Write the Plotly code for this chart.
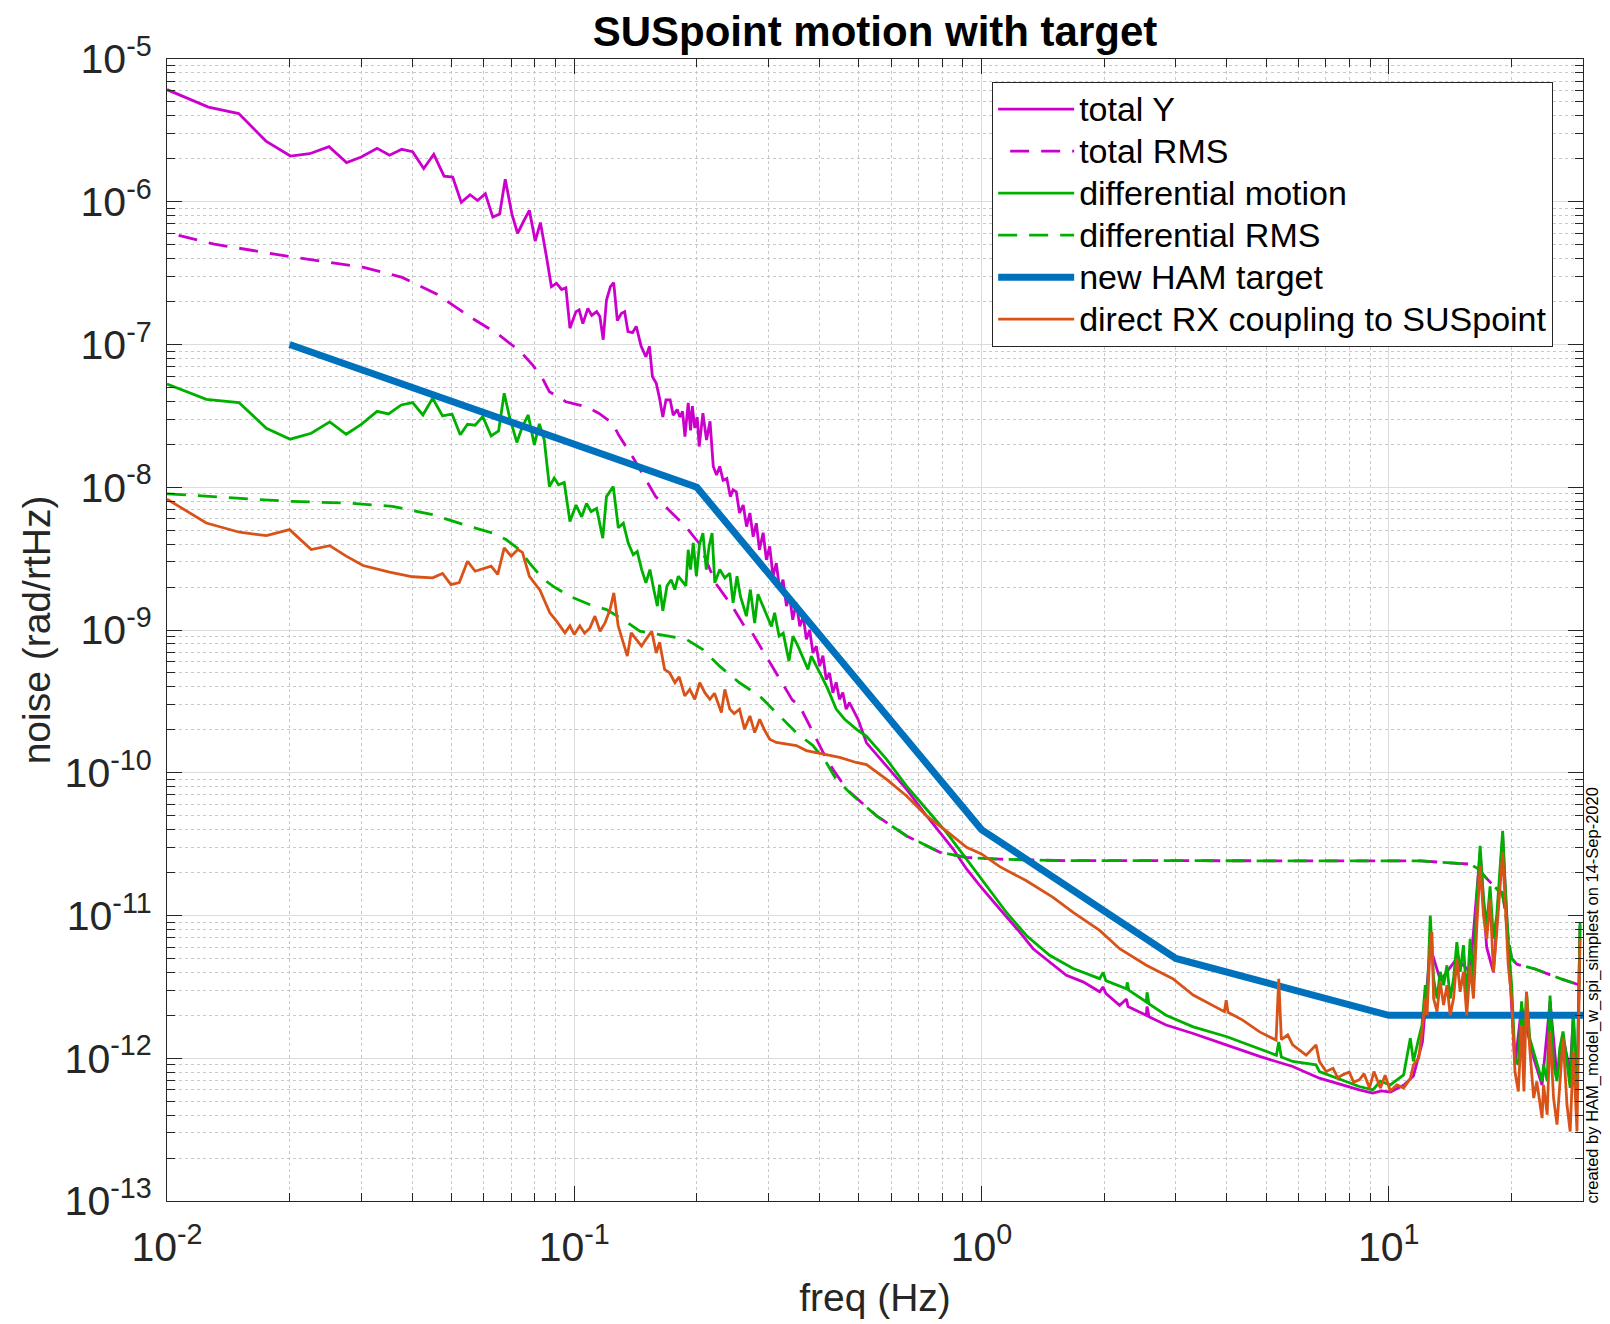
import math
import plotly.graph_objects as go

FONT = "Liberation Sans, Arial, Helvetica, sans-serif"
MAGENTA = "#CC00CC"
GREEN = "#00B000"
BLUE = "#0072BD"
ORANGE = "#D95319"

# ---------------- data ----------------
total_y_f = [0.01, 0.01264, 0.0150, 0.0175, 0.0201, 0.0224, 0.0250, 0.0276, 0.0300, 0.0328,
             0.0352, 0.0377, 0.0401, 0.0427, 0.0452, 0.0479, 0.0503, 0.0528, 0.0555, 0.0579,
             0.0605, 0.0631, 0.0656, 0.0677, 0.0703, 0.0726, 0.0751, 0.0776, 0.0802, 0.0826,
             0.0855, 0.0879, 0.0905, 0.0931, 0.0954, 0.0976, 0.101, 0.1028, 0.105, 0.108,
             0.1104, 0.1135, 0.1156, 0.1178, 0.120, 0.1227, 0.125, 0.1276, 0.1305, 0.133,
             0.1355, 0.139, 0.142, 0.146, 0.150, 0.153, 0.1556, 0.159, 0.162, 0.165,
             0.168, 0.172, 0.175, 0.179, 0.1817, 0.1845, 0.187, 0.1905, 0.193, 0.195,
             0.1977, 0.2004, 0.2027, 0.207, 0.2113, 0.2155, 0.2195, 0.2236, 0.2277, 0.232,
             0.237, 0.2417, 0.2455, 0.250, 0.2546, 0.260, 0.265, 0.270, 0.275, 0.280,
             0.285, 0.291, 0.2964, 0.302, 0.3077, 0.3135, 0.3194, 0.3256, 0.332, 0.338,
             0.344, 0.351, 0.358, 0.365, 0.3716, 0.3786, 0.3857, 0.393, 0.4005, 0.408,
             0.4158, 0.4236, 0.4316, 0.4398, 0.448, 0.4566, 0.4653, 0.474, 0.488, 0.4977,
             0.522, 0.585, 0.655, 0.733, 0.791, 0.852, 0.919, 0.991, 1.109, 1.242,
             1.339, 1.472, 1.616, 1.776, 1.951, 1.99, 2.02, 2.184, 2.27, 2.29,
             2.539, 2.55, 2.58, 2.84, 3.31, 3.99, 4.82, 5.81, 6.76, 8.47,
             9.14, 9.6, 10.1, 10.9, 11.5, 12.1, 12.65, 13.4, 14.7, 15.85,
             16.77, 17.4, 18.08, 19.05, 19.66, 20.42, 21.2, 22.7, 23.8, 24.9,
             25.9, 26.8, 27.9, 28.4, 29.0, 29.5]
total_y_v = [6.1e-6, 4.6e-6, 4.15e-6, 2.66e-6, 2.09e-6, 2.17e-6, 2.43e-6, 1.88e-6, 2.06e-6, 2.37e-6,
             2.12e-6, 2.33e-6, 2.24e-6, 1.71e-6, 2.15e-6, 1.51e-6, 1.49e-6, 9.9e-7, 1.12e-6, 1.02e-6,
             1.14e-6, 7.8e-7, 8.2e-7, 1.44e-6, 8.2e-7, 6.0e-7, 7.3e-7, 8.7e-7, 5.3e-7, 7.15e-7,
             4.1e-7, 2.54e-7, 2.68e-7, 2.43e-7, 2.5e-7, 1.3e-7, 1.7e-7, 1.75e-7, 1.4e-7, 1.79e-7,
             1.6e-7, 1.7e-7, 1.57e-7, 1.08e-7, 2.05e-7, 2.54e-7, 2.71e-7, 1.47e-7, 1.65e-7, 1.7e-7,
             1.23e-7, 1.21e-7, 1.34e-7, 9.7e-8, 8.2e-8, 9.7e-8, 5.96e-8, 5.35e-8, 4.2e-8, 3.1e-8,
             4.1e-8, 4.1e-8, 3.2e-8, 3.5e-8, 3.1e-8, 3.4e-8, 2.26e-8, 3.9e-8, 2.5e-8, 3.7e-8,
             2.6e-8, 3.1e-8, 1.93e-8, 3.3e-8, 2.14e-8, 2.9e-8, 1.4e-8, 1.22e-8, 1.4e-8, 1.12e-8,
             1.15e-8, 8.6e-9, 9.6e-9, 9.3e-9, 6.6e-9, 7.5e-9, 5.3e-9, 6.6e-9, 4.5e-9, 5.6e-9,
             3.65e-9, 4.8e-9, 3.1e-9, 3.85e-9, 2.38e-9, 2.94e-9, 1.92e-9, 2.25e-9, 1.47e-9, 1.72e-9,
             1.18e-9, 1.55e-9, 1.06e-9, 1.25e-9, 8.6e-10, 1.0e-9, 6.9e-10, 7.7e-10, 5.6e-10, 6.6e-10,
             4.5e-10, 5.0e-10, 3.64e-10, 4.3e-10, 3.27e-10, 3.64e-10, 2.79e-10, 3.1e-10, 2.64e-10, 2.37e-10,
             1.62e-10, 1.11e-10, 7.65e-11, 5.0e-11, 3.81e-11, 2.92e-11, 2.12e-11, 1.62e-11, 1.11e-11, 7.65e-12,
             5.85e-12, 4.72e-12, 3.81e-12, 3.43e-12, 2.92e-12, 3.16e-12, 2.85e-12, 2.35e-12, 2.6e-12, 2.3e-12,
             2.0e-12, 2.3e-12, 1.95e-12, 1.71e-12, 1.49e-12, 1.24e-12, 1.03e-12, 8.75e-13, 7.25e-13, 6.0e-13,
             5.7e-13, 5.9e-13, 5.8e-13, 6.5e-13, 7.5e-13, 1.3e-12, 6.0e-12, 3.5e-12, 5.0e-12, 4.0e-12,
             2.8e-11, 6.0e-12, 4.0e-12, 3.6e-11, 6.0e-12, 9.0e-13, 2.3e-12, 1.0e-12, 6.5e-13, 2.5e-12,
             7.5e-13, 1.4e-12, 8.0e-13, 2.0e-12, 5.5e-13, 8.5e-12]

total_rms_f = [0.01, 0.01306, 0.0201, 0.0304, 0.0378, 0.0459, 0.0557, 0.0648, 0.0707, 0.0733,
               0.079, 0.0836, 0.0869, 0.0954, 0.107, 0.1151, 0.1242, 0.1288, 0.139, 0.150,
               0.1585, 0.171, 0.188, 0.2027, 0.2226, 0.2445, 0.265, 0.2738, 0.3077, 0.343,
               0.3576, 0.379, 0.409, 0.4327, 0.4667, 0.5527, 0.655, 0.791, 0.919, 1.109,
               1.616, 3.43, 8.52, 12.0, 15.85, 16.6, 17.3, 18.1, 18.6, 19.0,
               19.3, 19.66, 20.04, 20.65, 22.7, 26.4, 29.5]
total_rms_v = [6.1e-7, 5.05e-7, 4.12e-7, 3.47e-7, 2.95e-7, 2.26e-7, 1.55e-7, 1.19e-7, 9.8e-8, 9.1e-8,
               7.2e-8, 5.78e-8, 4.67e-8, 3.97e-8, 3.66e-8, 3.29e-8, 2.8e-8, 2.3e-8, 1.64e-8, 1.12e-8,
               8.6e-9, 6.9e-9, 5.29e-9, 4.04e-9, 2.12e-9, 1.46e-9, 1.0e-9, 9.5e-10, 5.4e-10, 3.24e-10,
               2.94e-10, 2.12e-10, 1.38e-10, 1.05e-10, 7.65e-11, 4.99e-11, 3.61e-11, 2.77e-11, 2.55e-11, 2.48e-11,
               2.42e-11, 2.42e-11, 2.42e-11, 2.41e-11, 2.29e-11, 2.12e-11, 1.85e-11, 1.62e-11, 1.49e-11, 1.45e-11,
               1.1e-11, 7.0e-12, 5.0e-12, 4.55e-12, 4.25e-12, 3.61e-12, 3.25e-12]

diff_f = [0.01, 0.01249, 0.01502, 0.01754, 0.02007, 0.0226, 0.0251, 0.02754, 0.0300, 0.0328,
          0.035, 0.0376, 0.0401, 0.0425, 0.0449, 0.0475, 0.0501, 0.0525, 0.0547, 0.0571,
          0.0596, 0.0625, 0.0652, 0.0673, 0.0693, 0.0723, 0.0746, 0.0771, 0.0798, 0.0821,
          0.0844, 0.0869, 0.0893, 0.0915, 0.0945, 0.0976, 0.101, 0.1043, 0.1072, 0.110,
          0.1135, 0.1175, 0.120, 0.1247, 0.1283, 0.132, 0.1357, 0.1396, 0.1428, 0.1464,
          0.150, 0.1534, 0.1568, 0.160, 0.162, 0.165, 0.169, 0.173, 0.1766, 0.180,
          0.188, 0.1905, 0.193, 0.196, 0.1995, 0.203, 0.207, 0.211, 0.2143, 0.218,
          0.2214, 0.2277, 0.2343, 0.241, 0.2455, 0.251, 0.256, 0.2647, 0.2707, 0.2774,
          0.2826, 0.291, 0.305, 0.3105, 0.3184, 0.326, 0.3367, 0.3444, 0.3543, 0.375,
          0.382, 0.4045, 0.4199, 0.4398, 0.4613, 0.4927, 0.522, 0.585, 0.655, 0.733,
          0.821, 0.919, 1.029, 1.152, 1.289, 1.47, 1.679, 1.951, 1.99, 2.02,
          2.27, 2.28, 2.30, 2.54, 2.55, 2.58, 2.84, 3.31, 3.99, 4.82,
          5.3, 5.37, 5.45, 5.81, 6.63, 6.76, 8.47, 9.14, 9.54, 10.09,
          10.88, 11.3, 11.5, 11.85, 12.07, 12.3, 12.42, 12.65, 12.77, 12.89,
          13.14, 13.38, 13.64, 13.9, 14.16, 14.43, 14.7, 14.98, 15.26, 15.55,
          15.85, 16.15, 16.46, 16.77, 17.09, 17.41, 17.74, 18.08, 18.42, 18.77,
          19.05, 19.3, 19.66, 20.04, 20.42, 20.81, 21.2, 21.48, 21.8, 22.2,
          22.7, 23.1, 23.8, 24.0, 24.5, 24.9, 25.4, 25.9, 26.3, 26.8,
          27.4, 27.9, 28.4, 29.0, 29.5]
diff_v = [5.28e-8, 4.13e-8, 3.92e-8, 2.59e-8, 2.17e-8, 2.39e-8, 2.87e-8, 2.35e-8, 2.76e-8, 3.4e-8,
          3.26e-8, 3.77e-8, 3.92e-8, 3.21e-8, 4.2e-8, 3.16e-8, 3.26e-8, 2.33e-8, 2.76e-8, 2.72e-8,
          3.13e-8, 2.29e-8, 2.48e-8, 4.55e-8, 3.13e-8, 2.06e-8, 2.66e-8, 3.21e-8, 1.98e-8, 2.78e-8,
          2.15e-8, 1.01e-8, 1.16e-8, 1.04e-8, 1.08e-8, 5.75e-9, 7.5e-9, 6.2e-9, 7.7e-9, 6.76e-9,
          7.1e-9, 4.4e-9, 8.6e-9, 1.01e-8, 5.2e-9, 5.6e-9, 4.07e-9, 3.37e-9, 3.55e-9, 2.65e-9,
          2.14e-9, 2.65e-9, 1.92e-9, 1.47e-9, 2.08e-9, 1.36e-9, 2.04e-9, 2.25e-9, 1.92e-9, 2.38e-9,
          2.04e-9, 3.65e-9, 2.65e-9, 4.07e-9, 2.38e-9, 3.96e-9, 4.77e-9, 2.65e-9, 3.85e-9, 4.77e-9,
          2.14e-9, 2.65e-9, 2.31e-9, 2.5e-9, 1.55e-9, 2.38e-9, 1.72e-9, 1.25e-9, 1.92e-9, 1.12e-9,
          1.78e-9, 1.47e-9, 1.06e-9, 1.32e-9, 9.05e-10, 9.5e-10, 6.05e-10, 9.05e-10, 7.7e-10, 5.3e-10,
          6.56e-10, 4.77e-10, 3.84e-10, 2.79e-10, 2.37e-10, 2.02e-10, 1.8e-10, 1.24e-10, 8.07e-11, 5.55e-11,
          3.81e-11, 2.48e-11, 1.62e-11, 1.05e-11, 7.24e-12, 5.26e-12, 4.25e-12, 3.61e-12, 4.0e-12, 3.5e-12,
          3.07e-12, 3.4e-12, 3.0e-12, 2.48e-12, 2.9e-12, 2.4e-12, 2.0e-12, 1.66e-12, 1.42e-12, 1.17e-12,
          1.05e-12, 1.3e-12, 1.02e-12, 9.5e-13, 9.0e-13, 8.07e-13, 6.34e-13, 6.0e-13, 6.9e-13, 6.5e-13,
          7.65e-13, 1.38e-12, 9.5e-13, 1.38e-12, 1.71e-12, 3.25e-12, 2.36e-12, 1.0e-11, 6.5e-12, 3.6e-12,
          2.62e-12, 4.03e-12, 3.25e-12, 4.48e-12, 2.62e-12, 3.6e-12, 6.5e-12, 4.03e-12, 6.2e-12, 2.62e-12,
          6.87e-12, 3.6e-12, 1.31e-11, 3.07e-11, 1.31e-11, 8.5e-12, 1.6e-11, 6.87e-12, 1.0e-11, 2.23e-11,
          3.92e-11, 1.71e-11, 6.5e-12, 3.25e-12, 1.0e-12, 9.0e-13, 2.5e-12, 1.17e-12, 2.92e-12, 1.38e-12,
          1.11e-12, 9.5e-13, 6.9e-13, 9.0e-13, 6.9e-13, 2.75e-12, 9.0e-13, 6.9e-13, 1.17e-12, 1.54e-12,
          9.0e-13, 6.2e-13, 2.1e-12, 5.85e-13, 9.0e-12]

diff_rms_f = [0.01, 0.014, 0.02, 0.0275, 0.0358, 0.0449, 0.0553, 0.0631, 0.068, 0.0733,
              0.0776, 0.0836, 0.0888, 0.0976, 0.109, 0.12, 0.132, 0.1449, 0.168, 0.1886,
              0.207, 0.2275, 0.2546, 0.2853, 0.3194, 0.351, 0.3857, 0.4158, 0.4398, 0.475,
              0.5527, 0.655, 0.791, 0.919, 1.109, 1.616, 3.43, 8.52, 12.0, 15.85,
              16.6, 17.3, 18.1, 18.6, 19.0, 19.3, 19.66, 20.04, 20.65, 22.7,
              26.4, 29.5]
diff_rms_v = [9.0e-9, 8.5e-9, 7.96e-9, 7.76e-9, 7.35e-9, 6.43e-9, 5.32e-9, 4.78e-9, 4.3e-9, 3.66e-9,
              2.95e-9, 2.3e-9, 2.02e-9, 1.72e-9, 1.51e-9, 1.39e-9, 1.18e-9, 9.8e-10, 9.05e-10, 8.6e-10,
              7.3e-10, 5.58e-10, 4.27e-10, 3.45e-10, 2.5e-10, 1.91e-10, 1.55e-10, 1.18e-10, 9.0e-11, 7.25e-11,
              4.99e-11, 3.61e-11, 2.77e-11, 2.55e-11, 2.48e-11, 2.42e-11, 2.42e-11, 2.42e-11, 2.41e-11, 2.29e-11,
              2.12e-11, 1.85e-11, 1.62e-11, 1.49e-11, 1.45e-11, 1.1e-11, 7.0e-12, 5.0e-12, 4.55e-12, 4.25e-12,
              3.61e-12, 3.25e-12]

target_f = [0.02, 0.2, 1, 3, 10, 30]
target_v = [1e-7, 1e-8, 4e-11, 5e-12, 2e-12, 2e-12]

rx_f = [0.01, 0.01249, 0.01507, 0.01754, 0.02, 0.0226, 0.0251, 0.02754, 0.0303, 0.0352,
        0.0401, 0.0449, 0.0475, 0.0498, 0.0522, 0.0547, 0.0571, 0.0625, 0.0649, 0.0673,
        0.070, 0.0727, 0.0746, 0.0776, 0.0824, 0.0871, 0.0906, 0.0949, 0.0976, 0.1,
        0.1032, 0.106, 0.1092, 0.1124, 0.1157, 0.119, 0.1224, 0.1251, 0.1282, 0.132,
        0.135, 0.138, 0.142, 0.1463, 0.150, 0.155, 0.159, 0.162, 0.1667, 0.1716,
        0.1767, 0.181, 0.1868, 0.1922, 0.1977, 0.2033, 0.2093, 0.2153, 0.221, 0.2298,
        0.2343, 0.241, 0.247, 0.2546, 0.262, 0.27, 0.2774, 0.2853, 0.293, 0.302,
        0.3134, 0.332, 0.351, 0.3716, 0.408, 0.4484, 0.4927, 0.522, 0.585, 0.655,
        0.733, 0.821, 0.919, 1.0, 1.109, 1.289, 1.499, 1.679, 1.951, 2.184,
        2.54, 2.95, 3.31, 3.7, 3.95, 3.99, 4.03, 4.38, 4.82, 5.29,
        5.37, 5.45, 5.65, 5.81, 6.27, 6.63, 6.76, 7.02, 7.3, 7.5,
        7.71, 8.0, 8.2, 8.47, 8.7, 8.97, 9.2, 9.54, 9.8, 10.09,
        10.48, 10.88, 11.3, 11.5, 11.85, 12.07, 12.3, 12.42, 12.65, 12.77,
        12.89, 13.14, 13.38, 13.64, 13.9, 14.16, 14.43, 14.7, 14.98, 15.26,
        15.55, 15.85, 16.15, 16.46, 16.77, 17.09, 17.41, 17.74, 18.08, 18.42,
        18.77, 19.05, 19.3, 19.66, 20.04, 20.42, 20.81, 21.2, 21.48, 21.8,
        22.2, 22.7, 23.1, 23.8, 24.0, 24.5, 24.9, 25.4, 25.9, 26.3,
        26.8, 27.4, 27.9, 28.4, 29.0, 29.5]
rx_v = [8.26e-9, 5.62e-9, 4.84e-9, 4.58e-9, 5.05e-9, 3.66e-9, 3.9e-9, 3.29e-9, 2.83e-9, 2.54e-9,
        2.36e-9, 2.32e-9, 2.49e-9, 2.08e-9, 2.15e-9, 3.03e-9, 2.58e-9, 2.8e-9, 2.45e-9, 3.76e-9,
        3.29e-9, 3.66e-9, 3.5e-9, 2.38e-9, 1.9e-9, 1.32e-9, 1.15e-9, 9.55e-10, 1.07e-9, 9.3e-10,
        1.07e-9, 9.5e-10, 1.03e-9, 1.25e-9, 9.8e-10, 1.12e-9, 1.39e-9, 1.82e-9, 1.07e-9, 8.13e-10,
        6.56e-10, 9.55e-10, 8.6e-10, 7.7e-10, 8.6e-10, 9.8e-10, 6.9e-10, 8.2e-10, 5.3e-10, 5.0e-10,
        4.28e-10, 4.7e-10, 3.45e-10, 3.84e-10, 3.27e-10, 4.28e-10, 3.64e-10, 3.27e-10, 3.6e-10, 2.64e-10,
        3.84e-10, 2.79e-10, 2.6e-10, 2.79e-10, 2.02e-10, 2.5e-10, 1.91e-10, 2.37e-10, 2.0e-10, 1.72e-10,
        1.63e-10, 1.59e-10, 1.55e-10, 1.43e-10, 1.35e-10, 1.28e-10, 1.18e-10, 1.14e-10, 8.98e-11, 6.87e-11,
        4.99e-11, 3.9e-11, 3.0e-11, 2.7e-11, 2.2e-11, 1.75e-11, 1.34e-11, 1.05e-11, 7.86e-12, 5.85e-12,
        4.48e-12, 3.61e-12, 2.77e-12, 2.36e-12, 2.12e-12, 2.55e-12, 2.1e-12, 1.85e-12, 1.53e-12, 1.34e-12,
        3.6e-12, 1.35e-12, 1.46e-12, 1.24e-12, 1.05e-12, 1.24e-12, 9.5e-13, 8.07e-13, 8.5e-13, 7.3e-13,
        7.65e-13, 8.0e-13, 6.8e-13, 7.07e-13, 7.8e-13, 6.18e-13, 8.07e-13, 6.2e-13, 7.6e-13, 5.9e-13,
        6.5e-13, 6.2e-13, 7.2e-13, 9.0e-13, 1.0e-12, 1.54e-12, 2.62e-12, 2.0e-12, 6.5e-12, 7.65e-12,
        2.62e-12, 2.12e-12, 3.43e-12, 2.36e-12, 3.25e-12, 2.0e-12, 2.62e-12, 4.99e-12, 2.92e-12, 4.03e-12,
        2.0e-12, 4.48e-12, 2.62e-12, 8.5e-12, 2.23e-11, 1.0e-11, 6.87e-12, 1.31e-11, 4.03e-12, 7.65e-12,
        1.71e-11, 2.77e-11, 1.31e-11, 4.48e-12, 2.62e-12, 8.07e-13, 5.85e-13, 1.71e-12, 5.85e-13, 2.92e-12,
        1.17e-12, 5.26e-13, 6.87e-13, 3.81e-13, 6.5e-13, 4.03e-13, 1.54e-12, 5.26e-13, 3.43e-13, 6.87e-13,
        1.38e-12, 4.72e-13, 3.07e-13, 1.11e-12, 3.07e-13, 6.87e-12]

legend_names = ["total Y", "total RMS", "differential motion", "differential RMS",
                "new HAM target", "direct RX coupling to SUSpoint"]

# tick definitions
x_tickvals = [0.01, 0.1, 1, 10]
x_ticktext = ["10<sup>-2</sup>", "10<sup>-1</sup>", "10<sup>0</sup>", "10<sup>1</sup>"]
y_tickvals = [1e-13, 1e-12, 1e-11, 1e-10, 1e-9, 1e-8, 1e-7, 1e-6, 1e-5]
y_ticktext = ["10<sup>-13</sup>", "10<sup>-12</sup>", "10<sup>-11</sup>", "10<sup>-10</sup>",
              "10<sup>-9</sup>", "10<sup>-8</sup>", "10<sup>-7</sup>", "10<sup>-6</sup>", "10<sup>-5</sup>"]
x_minor = [m * 10 ** e for e in (-2, -1, 0) for m in range(2, 10)] + [20, 30]
y_minor = [m * 10.0 ** e for e in range(-13, -5) for m in range(2, 10)]


def lname(s):
    return '<span style="font-size:34px">' + s + '</span>'


fig = go.Figure()
fig.add_trace(go.Scatter(x=total_y_f, y=total_y_v, mode="lines", name=lname(legend_names[0]),
                         line=dict(color=MAGENTA, width=2.8)))
fig.add_trace(go.Scatter(x=total_rms_f, y=total_rms_v, mode="lines", name=lname(legend_names[1]),
                         line=dict(color=MAGENTA, width=2.8, dash="0px,12px,19px,0px")))
fig.add_trace(go.Scatter(x=diff_f, y=diff_v, mode="lines", name=lname(legend_names[2]),
                         line=dict(color=GREEN, width=2.8)))
fig.add_trace(go.Scatter(x=diff_rms_f, y=diff_rms_v, mode="lines", name=lname(legend_names[3]),
                         line=dict(color=GREEN, width=2.8, dash="19px,12px")))
fig.add_trace(go.Scatter(x=target_f, y=target_v, mode="lines", name=lname(legend_names[4]),
                         line=dict(color=BLUE, width=7)))
fig.add_trace(go.Scatter(x=rx_f, y=rx_v, mode="lines", name=lname(legend_names[5]),
                         line=dict(color=ORANGE, width=2.8)))

axis_common = dict(
    type="log", showline=True, linecolor="#262626", linewidth=1.2, mirror="allticks",
    ticks="inside", ticklen=15, tickwidth=1.2, tickcolor="#262626",
    showgrid=True, gridcolor="#DCDCDC", gridwidth=1, zeroline=False,
    tickfont=dict(family=FONT, size=41, color="#262626"),
)

fig.update_layout(
    width=1610, height=1324,
    paper_bgcolor="white", plot_bgcolor="white",
    margin=dict(l=167, r=27, t=59, b=121),
    title=dict(text="<b>SUSpoint motion with target</b>", x=0.5, xref="paper",
               y=1 - 31 / 1324, yref="container", yanchor="middle",
               font=dict(family=FONT, size=42, color="black")),
    xaxis=dict(axis_common, range=[-2, math.log10(30)], tickmode="array",
               tickvals=x_tickvals, ticktext=x_ticktext, ticklabelstandoff=10,
               minor=dict(tickmode="array", tickvals=x_minor, ticks="inside", ticklen=8,
                          tickcolor="#262626", showgrid=True, gridcolor="#C8C8C8",
                          griddash="dot", gridwidth=1),
               title=dict(text="freq (Hz)", standoff=14,
                          font=dict(family=FONT, size=39, color="#262626"))),
    yaxis=dict(axis_common, range=[-13, -5], tickmode="array",
               tickvals=y_tickvals, ticktext=y_ticktext, ticklabelstandoff=6,
               minor=dict(tickmode="array", tickvals=y_minor, ticks="inside", ticklen=8,
                          tickcolor="#262626", showgrid=True, gridcolor="#C8C8C8",
                          griddash="dot", gridwidth=1),
               title=dict(text="noise (rad/rtHz)", standoff=1,
                          font=dict(family=FONT, size=39, color="#262626"))),
    legend=dict(x=0.5826, y=0.9799, xanchor="left", yanchor="top",
                bgcolor="white", bordercolor="#262626", borderwidth=1.2,
                font=dict(family=FONT, size=30, color="black"),
                itemwidth=76, tracegroupgap=0),
    showlegend=True,
)

fig.add_annotation(text="created by HAM_model_w_spi_simplest on 14-Sep-2020",
                   x=1.0064, y=0.180, xref="paper", yref="paper", textangle=-90,
                   showarrow=False, xanchor="center", yanchor="middle",
                   font=dict(family=FONT, size=16.5, color="black"))

fig.write_html("out.html", config={"displayModeBar": False},
               post_script="document.body.style.margin='0px';document.body.style.overflow='hidden';")
